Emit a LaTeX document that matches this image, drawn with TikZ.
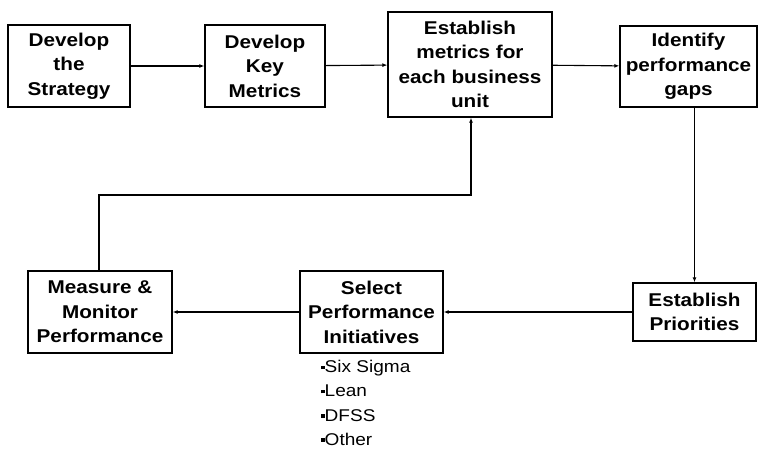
\documentclass[tikz,border=0pt]{standalone}
\usepackage{fontspec}
\setmainfont[FakeStretch=1.12]{Liberation Sans}
\usetikzlibrary{arrows.meta}
\newcommand{\sqbul}{\raisebox{3.5pt}{\rule{3.5pt}{3.5pt}}}
\begin{document}
\begin{tikzpicture}[x=1pt,y=-1pt,
  box/.style={draw,line width=1.4pt,inner sep=0pt,align=center,
    font=\fontsize{18.5}{24.5}\selectfont\bfseries},
  conn/.style={line width=1.1pt,-{Latex[length=5pt,width=4pt]}}]
\useasboundingbox (0,0) rectangle (765,452);
\node[box,minimum width=122pt,minimum height=82pt] (strat) at (69,66) {Develop\\the\\Strategy};
\node[box,minimum width=120pt,minimum height=82pt] (key) at (265,66) {Develop\\Key\\Metrics};
\node[box,minimum width=164pt,minimum height=105pt] (unit) at (470,64.5) {Establish\\metrics for\\each business\\unit};
\node[box,minimum width=137pt,minimum height=81pt] (gaps) at (688.5,66.5) {Identify\\performance\\gaps};
\node[box,minimum width=123pt,minimum height=58pt] (prio) at (694.5,312) {Establish\\Priorities};
\node[box,minimum width=143pt,minimum height=82pt] (sel) at (371.5,312) {Select\\Performance\\Initiatives};
\node[box,minimum width=144pt,minimum height=82pt] (meas) at (100,312) {Measure \&\\Monitor\\Performance};
\node[anchor=north west,inner sep=0pt,align=left,font=\fontsize{17}{24.3}\selectfont] (list) at (321,360)
  {\sqbul Six Sigma\\\sqbul Lean\\\sqbul DFSS\\\sqbul Other};
\coordinate (c1) at (99,195);
\coordinate (c2) at (471,195);
\draw[conn] (strat) -- (key);
\draw[conn] (key) -- (unit);
\draw[conn] (unit) -- (gaps);
\draw[conn] (gaps.south -| prio.north) -- (prio.north);
\draw[conn] (prio) -- (sel);
\draw[conn] (sel) -- (meas);
\draw[conn] (meas.north -| c1) -- (c1) -- (c2) -- (unit.south -| c2);
\end{tikzpicture}
\end{document}
